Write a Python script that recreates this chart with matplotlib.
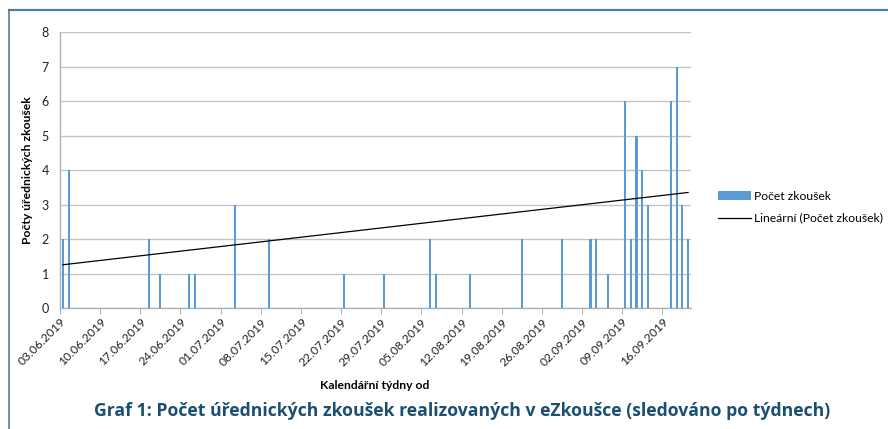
import matplotlib
matplotlib.use("Agg")
import matplotlib.pyplot as plt
import matplotlib.dates as mdates
import numpy as np
import pandas as pd

# Days with exams (daily counts)
exam_dates = [
    "2019-06-03", "2019-06-04", "2019-06-18", "2019-06-20", "2019-06-25",
    "2019-06-26", "2019-07-03", "2019-07-09", "2019-07-22", "2019-07-29",
    "2019-08-06", "2019-08-07", "2019-08-13", "2019-08-22", "2019-08-29",
    "2019-09-03", "2019-09-04", "2019-09-06", "2019-09-09", "2019-09-10",
    "2019-09-11", "2019-09-12", "2019-09-13", "2019-09-17", "2019-09-18",
    "2019-09-19", "2019-09-20",
]
exam_counts = [2, 4, 2, 1, 1, 1, 3, 2, 1, 1, 2, 1, 1, 2, 2,
               2, 2, 1, 6, 2, 5, 4, 3, 6, 7, 3, 2]

axis_start = "2019-06-03"
axis_end = "2019-09-21"
week_starts = pd.date_range("2019-06-03", "2019-09-16", freq="7D")

BAR_COLOR = "#5b9bd5"
FRAME_COLOR = "#4a80a3"
TITLE_COLOR = "#1b4f72"
GRID_COLOR = "#c3c3c3"

dates = pd.to_datetime(exam_dates)
x = mdates.date2num(dates) + 0.5  # bar centered within its day
y = np.array(exam_counts)

fig = plt.figure(figsize=(8.88, 4.29), dpi=100)
ax = fig.add_axes([0.0676, 0.282, 0.7105, 0.643])

bars = ax.bar(x, y, width=0.38, color=BAR_COLOR, label="Počet zkoušek", zorder=3)

# Linear trendline over the day positions
coef = np.polyfit(x, y, 1)
trend_x = np.array([x[0], x[-1]])
trend, = ax.plot(trend_x, np.polyval(coef, trend_x), color="black", lw=0.9,
                 label="Lineární (Počet zkoušek)", zorder=4)

ax.set_xlim(mdates.date2num(pd.Timestamp(axis_start)),
            mdates.date2num(pd.Timestamp(axis_end)))
ax.set_ylim(0, 8)
ax.set_yticks(range(0, 9))
ax.set_xticks(mdates.date2num(week_starts))
ax.xaxis.set_major_formatter(mdates.DateFormatter("%d.%m.%Y"))

ax.grid(axis="y", color=GRID_COLOR, lw=1, zorder=0)
for side in ("top", "right"):
    ax.spines[side].set_visible(False)
for side in ("left", "bottom"):
    ax.spines[side].set_color("#b0b0b0")
    ax.spines[side].set_linewidth(1)

ax.tick_params(axis="y", length=0, pad=8, labelsize=9, labelcolor="#222222")
ax.tick_params(axis="x", length=4, color="#b0b0b0", direction="out",
               labelsize=8.7, labelcolor="#222222", pad=2)
plt.setp(ax.get_xticklabels(), rotation=45, ha="right", rotation_mode="anchor")
for lbl in ax.get_xticklabels() + ax.get_yticklabels():
    lbl.set_family("Lato")

ax.set_ylabel("Počty úřednických zkoušek", fontsize=8.7, fontweight="bold",
              family="Lato", labelpad=6)
fig.text(0.422, 0.102, "Kalendářní týdny od", fontsize=8.7, fontweight="bold",
         family="Lato", ha="center", va="center")

fig.text(0.52, 0.043,
         "Graf 1: Počet úřednických zkoušek realizovaných v eZkoušce (sledováno po týdnech)",
         fontsize=12.7, fontweight="bold", color=TITLE_COLOR, family="Open Sans",
         ha="center", va="center")

leg = ax.legend([bars, trend], ["Počet zkoušek", "Lineární (Počet zkoušek)"],
                loc="center left", bbox_to_anchor=(1.025, 0.365), frameon=False,
                prop={"family": "Lato", "size": 8.7}, handlelength=2.8,
                labelspacing=0.9, handletextpad=0.2)

# Outer frame (top and left edges)
fig.add_artist(plt.Line2D([0.0105, 1.0], [0.977, 0.977], color=FRAME_COLOR,
                          lw=1.6, transform=fig.transFigure))
fig.add_artist(plt.Line2D([0.0105, 0.0105], [0.0, 0.977], color=FRAME_COLOR,
                          lw=1.2, transform=fig.transFigure))

fig.savefig("out.png", dpi=100, facecolor="white")
